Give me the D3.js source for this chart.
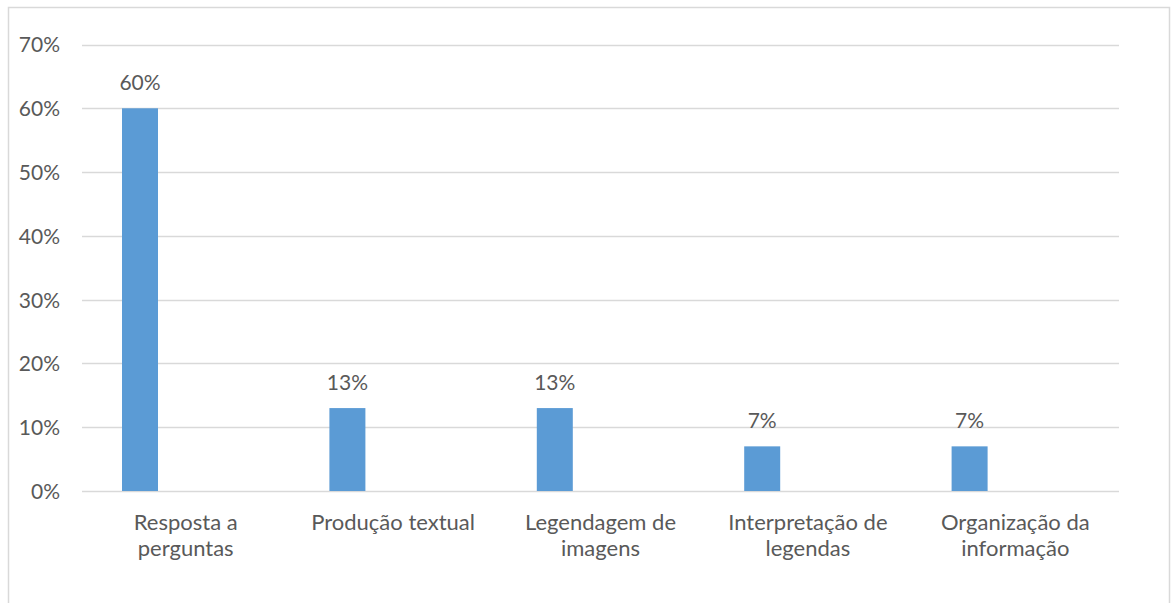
<!DOCTYPE html>
<html>
<head>
<meta charset="utf-8">
<script src="https://cdn.jsdelivr.net/npm/d3@7"></script>
<style>
  html, body { margin: 0; padding: 0; background: #fff; }
  svg { display: block; }
</style>
</head>
<body>
<svg id="chart" width="1176" height="603"></svg>
<script>
const categories = [
  "Resposta a\nperguntas",
  "Produção textual",
  "Legendagem de\nimagens",
  "Interpretação de\nlegendas",
  "Organização da\ninformação"
];
const values = [0.60, 0.13, 0.13, 0.07, 0.07];
const valueLabels = ["60%", "13%", "13%", "7%", "7%"];
const yTicks = [0, 0.1, 0.2, 0.3, 0.4, 0.5, 0.6, 0.7];

const svg = d3.select("#chart");
const font = "Lato, 'Liberation Sans', sans-serif";
const textColor = "#595959";
const gridColor = "#d9d9d9";
const barColor = "#5b9bd5";

// outer border
svg.append("rect")
  .attr("x", 8.5).attr("y", 7.5)
  .attr("width", 1161).attr("height", 620)
  .attr("fill", "#fff").attr("stroke", gridColor).attr("stroke-width", 1.5);

const plot = { left: 82, right: 1119, top: 44.5, bottom: 491 };

const y = d3.scaleLinear().domain([0, 0.7]).range([plot.bottom, plot.top]);
const x = d3.scaleBand().domain(d3.range(categories.length))
  .range([plot.left, plot.right]).paddingInner(0).paddingOuter(0);

// gridlines
svg.append("g").selectAll("line").data(yTicks).join("line")
  .attr("x1", plot.left).attr("x2", plot.right)
  .attr("y1", d => Math.round(y(d)) + 0.5).attr("y2", d => Math.round(y(d)) + 0.5)
  .attr("stroke", gridColor).attr("stroke-width", 1.5);

// y axis labels
const yAxis = d3.axisLeft(y).tickValues(yTicks).tickFormat(d3.format(".0%")).tickSize(0).tickPadding(0);
const yg = svg.append("g").attr("transform", `translate(60,0)`).call(yAxis);
yg.select(".domain").remove();
yg.selectAll("text").attr("font-family", font).attr("font-size", 21)
  .attr("fill", textColor).attr("dy", "0.35em");

// bars: offset within slot like a 2-series cluster with empty second series
const barOffset = 40, barW = 36;
svg.append("g").selectAll("rect").data(values).join("rect")
  .attr("x", (d, i) => x(i) + barOffset)
  .attr("y", d => y(d))
  .attr("width", barW)
  .attr("height", d => y(0) - y(d))
  .attr("fill", barColor);

// value labels
svg.append("g").selectAll("text").data(values).join("text")
  .attr("x", (d, i) => x(i) + barOffset + barW / 2)
  .attr("y", d => y(d) - 18)
  .attr("text-anchor", "middle")
  .attr("font-family", font).attr("font-size", 21).attr("fill", textColor)
  .text((d, i) => valueLabels[i]);

// category labels
const cg = svg.append("g").selectAll("text").data(categories).join("text")
  .attr("x", (d, i) => x(i) + x.bandwidth() / 2)
  .attr("y", 530)
  .attr("text-anchor", "middle")
  .attr("font-family", font).attr("font-size", 22).attr("fill", textColor);
cg.selectAll("tspan").data(d => d.split("\n")).join("tspan")
  .attr("x", function() { return d3.select(this.parentNode).attr("x"); })
  .attr("dy", (d, i) => i === 0 ? 0 : 26)
  .text(d => d);
</script>
</body>
</html>
